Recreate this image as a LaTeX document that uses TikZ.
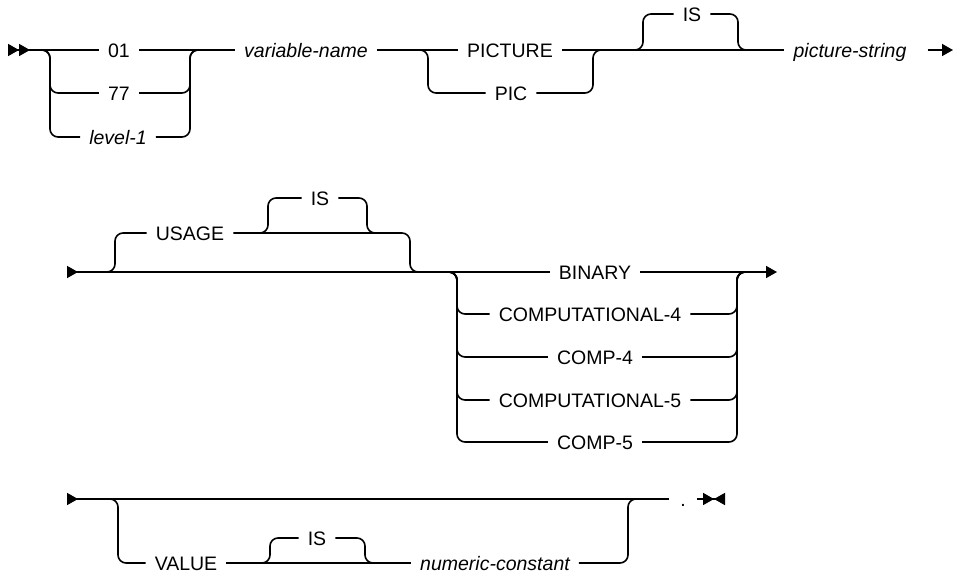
\documentclass[tikz,border=0pt]{standalone}
\usepackage{fontspec}
\setmainfont{Liberation Sans}
\usetikzlibrary{arrows.meta}
\tikzset{railtip/.tip={Triangle[length=11pt, width=12pt]}}

\begin{document}
\begin{tikzpicture}[x=1pt, y=-1pt,
  rail/.style={line width=1.6pt, rounded corners=8pt},
  kw/.style={font=\fontsize{19.5}{22}\selectfont, inner xsep=9pt, inner ysep=0pt,
             text height=14pt, text depth=0pt},
  var/.style={kw, font=\fontsize{19.5}{22}\selectfont\itshape}]
\useasboundingbox (0,0) rectangle (954,582);

% --- first line: level, name, picture
\coordinate (start1) at (8,50);
\coordinate (s1) at (50,50);
\coordinate (m1) at (190,50);
\coordinate (s2) at (428,50);
\coordinate (m2) at (593,50);
\coordinate (u1) at (643,50);
\coordinate (d1) at (738,50);
\coordinate (end1) at (953,50);
\node[kw] (n01) at (119,50) {01};
\node[kw] (n77) at (119,93) {77};
\node[var] (nlevel) at (118,137) {level-1};
\node[var] (nvarname) at (306,50) {variable-name};
\node[kw] (npicture) at (510,50) {PICTURE};
\node[kw] (npic) at (511,93) {PIC};
\node[kw] (nis1) at (692,14) {IS};
\node[var] (npicstr) at (850,50) {picture-string};

\draw[rail, {railtip[reversed] railtip[reversed]}-] (start1) -- (n01);
\draw[rail] (n01) -- (nvarname) -- (npicture) -- (npicstr);
\draw[rail, -{railtip[]}, shorten <=12pt] (npicstr) -- (end1);
\foreach \alt in {n77, nlevel}
  \draw[rail] ([xshift=-10pt]s1) -| (s1 |- \alt.west) -- (\alt.west)
              (\alt.east) -| (m1) -- ([xshift=10pt]m1);
\draw[rail] ([xshift=-10pt]s2) -| (s2 |- npic.west) -- (npic.west)
            (npic.east) -| (m2) -- ([xshift=10pt]m2);
\draw[rail] ([xshift=-10pt]u1) -| (u1 |- nis1.west) -- (nis1.west)
            (nis1.east) -| (d1) -- ([xshift=10pt]d1);

% --- second line: usage
\coordinate (start2) at (67,272);
\coordinate (s3) at (115,272);
\coordinate (u3) at (268,233);
\coordinate (d3) at (367,233);
\coordinate (m3) at (410,272);
\coordinate (s4) at (457,272);
\coordinate (m4) at (737,272);
\coordinate (end2) at (777,272);
\node[kw] (nusage) at (190,233) {USAGE};
\node[kw] (nis2) at (320,198) {IS};
\node[kw] (nbinary) at (595,272) {BINARY};
\node[kw] (ncompl4) at (590,314) {COMPUTATIONAL-4};
\node[kw] (ncomp4) at (595,357) {COMP-4};
\node[kw] (ncompl5) at (590,400) {COMPUTATIONAL-5};
\node[kw] (ncomp5) at (595,442) {COMP-5};

\draw[rail, {railtip[reversed]}-] (start2) -- (nbinary);
\draw[rail, -{railtip[]}] (nbinary) -- (end2);
\draw[rail] ([xshift=-10pt]s3) -| (s3 |- nusage.west) -- (nusage.west)
            (nusage.east) -| (m3) -- ([xshift=10pt]m3);
\draw[rail] ([xshift=-10pt]u3) -| (u3 |- nis2.west) -- (nis2.west)
            (nis2.east) -| (d3) -- ([xshift=10pt]d3);
\foreach \alt in {ncompl4, ncomp4, ncompl5, ncomp5}
  \draw[rail] ([xshift=-10pt]s4) -| (s4 |- \alt.west) -- (\alt.west)
              (\alt.east) -| (m4) -- ([xshift=10pt]m4);

% --- third line: value
\coordinate (start3) at (67,499);
\coordinate (s5) at (118,499);
\coordinate (u5) at (270,563);
\coordinate (d5) at (365,563);
\coordinate (m5) at (628,499);
\coordinate (end3) at (725,499);
\node[kw] (nvalue) at (186,563) {VALUE};
\node[kw] (nis3) at (317,538) {IS};
\node[var] (nnumconst) at (495,563) {numeric-constant};
\node[kw, inner xsep=11pt] (ndot) at (683,499) {.};

\draw[rail, {railtip[reversed]}-] (start3) -- (ndot);
\draw[rail, -{railtip[] railtip[reversed]}] (ndot) -- (end3);
\draw[rail] ([xshift=-10pt]s5) -| (s5 |- nvalue.west) -- (nvalue.west);
\draw[rail] (nvalue) -- (nnumconst);
\draw[rail] ([xshift=-10pt]u5) -| (u5 |- nis3.west) -- (nis3.west)
            (nis3.east) -| (d5) -- ([xshift=10pt]d5);
\draw[rail] (nnumconst.east) -| (m5) -- ([xshift=10pt]m5);
\end{tikzpicture}
\end{document}
